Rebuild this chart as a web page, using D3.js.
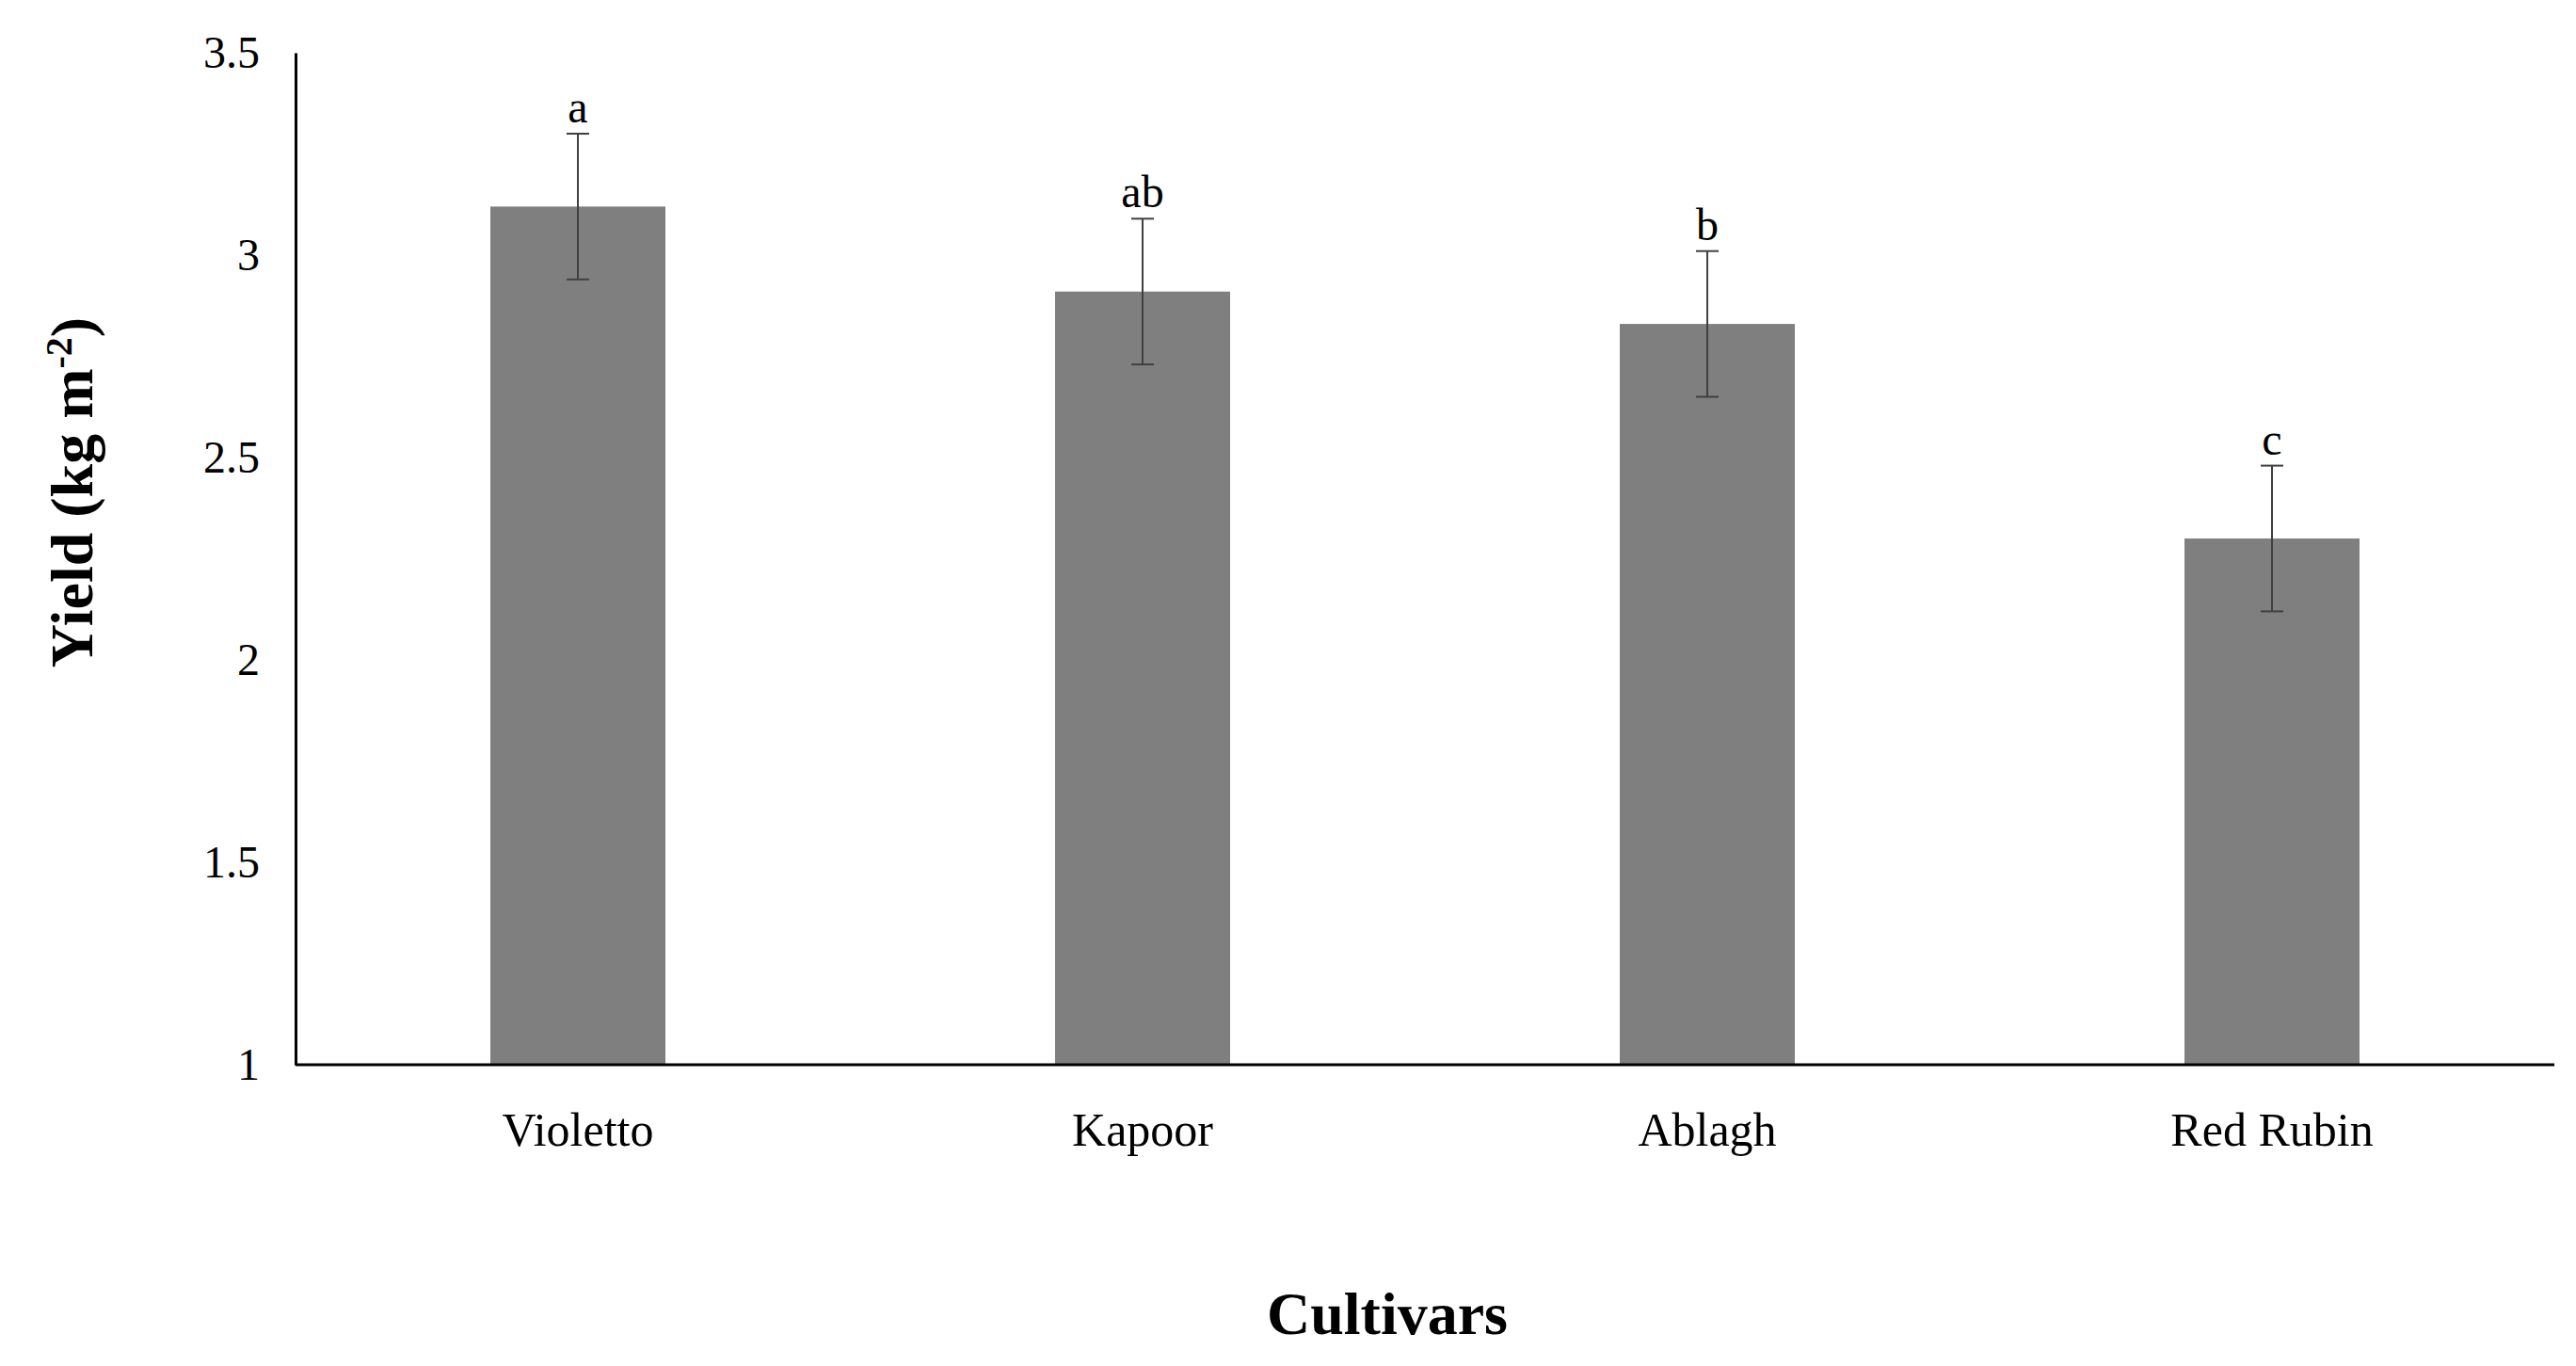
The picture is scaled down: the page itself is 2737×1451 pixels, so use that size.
<!DOCTYPE html>
<html><head><meta charset="utf-8">
<script src="https://cdn.jsdelivr.net/npm/d3@7"></script>
<style>body{margin:0;background:#fff}text{font-family:"Liberation Serif","Times New Roman",serif}</style>
</head><body>
<svg id="c" width="2737" height="1451"></svg>
<script>
// data
var cultivars = ["Violetto", "Kapoor", "Ablagh", "Red Rubin"];
var yieldVals = [3.12, 2.91, 2.83, 2.30];
var errVals = [0.18, 0.18, 0.18, 0.18];
var letters = ["a", "ab", "b", "c"];
var yTicks = [1, 1.5, 2, 2.5, 3, 3.5];

var svg = d3.select("#c");
var pLeft = 314, pRight = 2714, pTop = 56, pBottom = 1131;

var x = d3.scaleBand().domain(cultivars).range([pLeft, pRight]).paddingInner(0.69).paddingOuter(0.345);
var y = d3.scaleLinear().domain([1, 3.5]).range([pBottom, pTop]);

// bars
svg.selectAll(".bar").data(cultivars).enter().append("rect")
  .attr("x", function(d){ return x(d); })
  .attr("width", x.bandwidth())
  .attr("y", function(d, i){ return y(yieldVals[i]); })
  .attr("height", function(d, i){ return pBottom - y(yieldVals[i]); })
  .attr("fill", "#7f7f7f");

// error bars
var eb = svg.selectAll(".eb").data(cultivars).enter().append("g").attr("stroke", "#404040").attr("stroke-width", 2);
eb.append("line")
  .attr("x1", function(d){ return x(d) + x.bandwidth()/2; })
  .attr("x2", function(d){ return x(d) + x.bandwidth()/2; })
  .attr("y1", function(d, i){ return y(yieldVals[i] + errVals[i]); })
  .attr("y2", function(d, i){ return y(yieldVals[i] - errVals[i]); });
[1, -1].forEach(function(s){
  eb.append("line")
    .attr("x1", function(d){ return x(d) + x.bandwidth()/2 - 12; })
    .attr("x2", function(d){ return x(d) + x.bandwidth()/2 + 12; })
    .attr("y1", function(d, i){ return y(yieldVals[i] + s*errVals[i]); })
    .attr("y2", function(d, i){ return y(yieldVals[i] + s*errVals[i]); });
});

// significance letters
svg.selectAll(".lt").data(cultivars).enter().append("text")
  .attr("x", function(d){ return x(d) + x.bandwidth()/2; })
  .attr("y", function(d, i){ return y(yieldVals[i] + errVals[i]) - 12; })
  .attr("text-anchor", "middle").attr("font-size", 48)
  .text(function(d, i){ return letters[i]; });

// axes
var ya = svg.append("g").attr("transform", "translate(" + pLeft + ",0)")
  .call(d3.axisLeft(y).tickValues(yTicks).tickSize(0).tickPadding(38).tickFormat(d3.format("")));
ya.select(".domain").attr("stroke", "#000").attr("stroke-width", 3);
ya.selectAll("text").attr("font-size", 48).attr("fill", "#000").attr("font-family", "Liberation Serif");

var xa = svg.append("g").attr("transform", "translate(0," + pBottom + ")")
  .call(d3.axisBottom(x).tickSize(0).tickPadding(50));
xa.select(".domain").attr("stroke", "#000").attr("stroke-width", 3).attr("d", "M" + pLeft + ",0H" + pRight);
xa.selectAll("text").attr("font-size", 50).attr("fill", "#000").attr("font-family", "Liberation Serif");

// titles
svg.append("text").attr("x", (pLeft + pRight)/2 - 40).attr("y", 1417)
  .attr("text-anchor", "middle").attr("font-size", 64).attr("font-weight", "bold").text("Cultivars");
var yt = svg.append("text").attr("transform", "translate(98,523) rotate(-90)")
  .attr("text-anchor", "middle").attr("font-size", 64).attr("font-weight", "bold");
yt.append("tspan").text("Yield (kg m");
yt.append("tspan").attr("font-size", 40).attr("dy", -22).text("-2");
yt.append("tspan").attr("dy", 22).text(")");
</script>
</body></html>
